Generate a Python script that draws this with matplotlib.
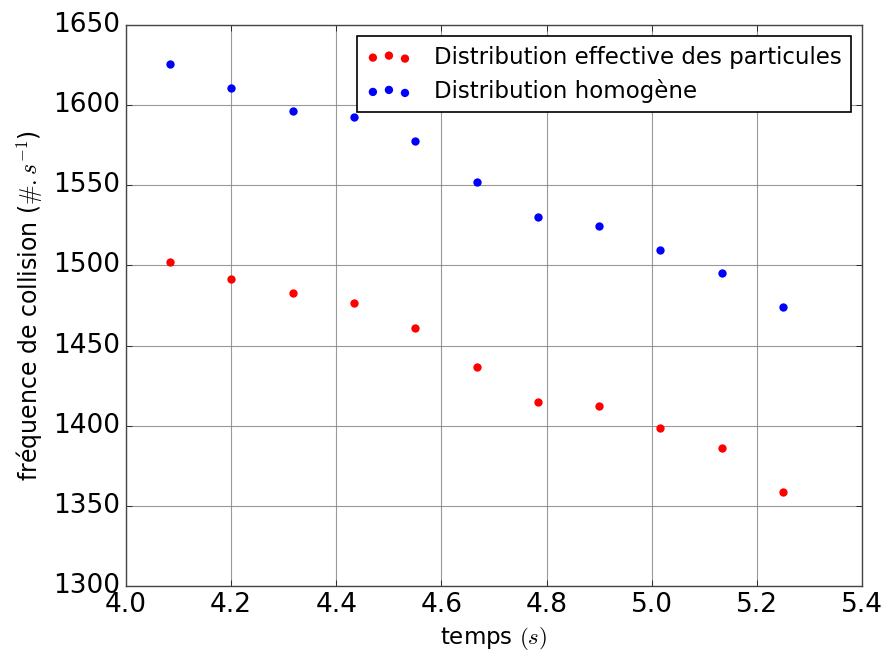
import matplotlib
matplotlib.use("Agg")
import matplotlib.pyplot as plt

temps = [4.0833, 4.2, 4.3167, 4.4333, 4.55, 4.6667, 4.7833, 4.9, 5.0167, 5.1333, 5.25]
effective = [1502.0, 1491.5, 1482.7, 1476.3, 1461.0, 1436.7, 1414.8, 1412.4, 1398.6, 1386.2, 1358.5]
homogene = [1625.6, 1611.0, 1596.3, 1592.5, 1577.5, 1551.8, 1530.0, 1524.6, 1509.6, 1495.4, 1473.9]
x_ticks = [4.0, 4.2, 4.4, 4.6, 4.8, 5.0, 5.2, 5.4]
y_ticks = [1300, 1350, 1400, 1450, 1500, 1550, 1600, 1650]

plt.style.use('classic')
plt.rcParams['mathtext.fontset'] = 'cm'
plt.rcParams['font.family'] = 'DejaVu Sans'

fig = plt.figure(figsize=(8.85, 6.51), dpi=100)
fig.patch.set_facecolor('white')
ax = fig.add_axes([0.1424, 0.0998, 0.974 - 0.1424, 0.9616 - 0.0998])

ax.scatter(temps, effective, s=36, c='red', linewidths=0, label='Distribution effective des particules', zorder=3)
ax.scatter(temps, homogene, s=36, c='blue', linewidths=0, label='Distribution homogène', zorder=3)

ax.set_xlim(4.0, 5.4)
ax.set_ylim(1300, 1650)
ax.set_xticks(x_ticks)
ax.set_yticks(y_ticks)
ax.set_xticklabels([f"{v:.1f}" for v in x_ticks])
ax.set_yticklabels([str(v) for v in y_ticks])
ax.tick_params(labelsize=19)
ax.grid(True, color='gray', linestyle='-', linewidth=0.8, alpha=0.8)
ax.set_axisbelow(True)
ax.set_xlabel('temps $(s)$', fontsize=16.5)
ax.set_ylabel('fréquence de collision ($\\#.s^{-1}$)', fontsize=17, labelpad=6)
for sp in ax.spines.values():
    sp.set_color('#444444')

leg = ax.legend(loc='upper right', scatterpoints=3, fontsize=16.5, fancybox=False,
                borderaxespad=0.5, handletextpad=0.95, borderpad=0.4, labelspacing=0.45)
leg.get_frame().set_edgecolor('black')
leg.get_frame().set_linewidth(1.2)

fig.savefig('out.png', dpi=100, facecolor='white')
